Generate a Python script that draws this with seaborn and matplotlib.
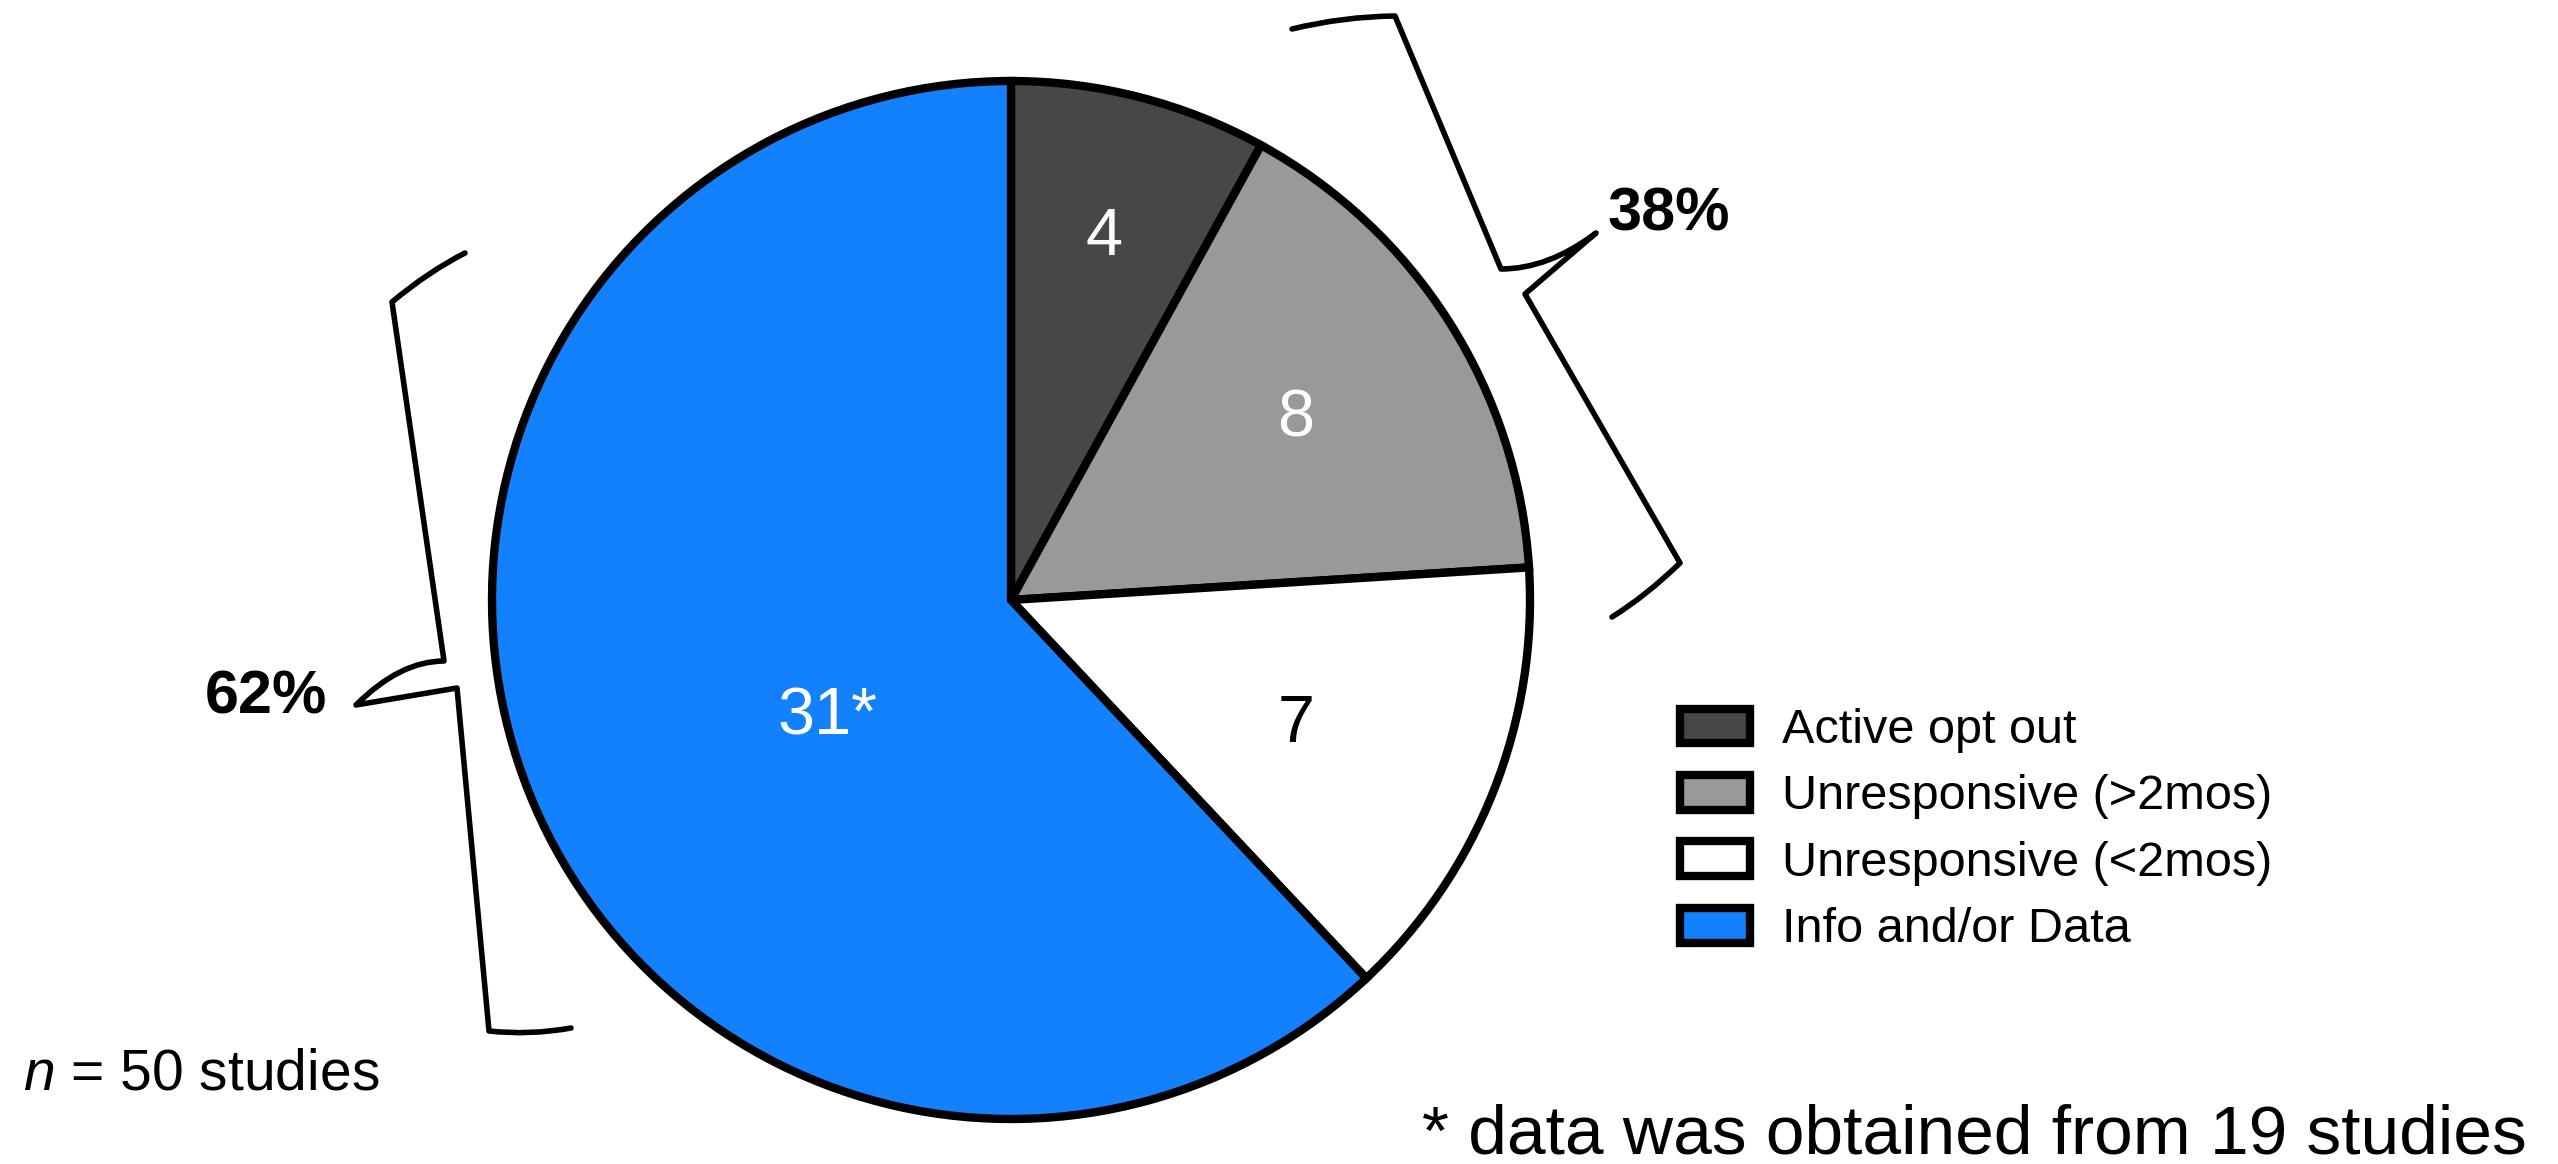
import numpy as np
import matplotlib
matplotlib.use("Agg")
import matplotlib.pyplot as plt
import seaborn as sns
from matplotlib.path import Path
from matplotlib.patches import PathPatch

# Study outcomes (counts out of 50 studies)
categories = ["Active opt out", "Unresponsive (>2mos)", "Unresponsive (<2mos)", "Info and/or Data"]
counts = [4, 8, 7, 31]
slice_labels = ["4", "8", "7", "31*"]
group_labels = ["38%", "62%"]
sample_note = "$n$ = 50 studies"
footnote = "* data was obtained from 19 studies"

palette = ["#474747", "#999999", "#ffffff", "#1380fe"]
label_colors = ["white", "white", "black", "white"]

sns.set_theme(style="white")
plt.rcParams["font.family"] = ["Liberation Sans", "DejaVu Sans"]
plt.rcParams["mathtext.fontset"] = "custom"
plt.rcParams["mathtext.it"] = "Liberation Sans:italic"
plt.rcParams["mathtext.rm"] = "Liberation Sans"
plt.rcParams["text.color"] = "black"

W, H = 2558, 1164
fig = plt.figure(figsize=(W / 100, H / 100), dpi=100)
ax = fig.add_axes([0, 0, 1, 1])

# pie laid out in pixel units (y up)
cx, cy, R = 1011, 564, 519
wedges, _ = ax.pie(
    counts, colors=palette, startangle=90, counterclock=False,
    center=(cx, cy), radius=R,
    wedgeprops=dict(edgecolor="black", linewidth=6, joinstyle="miter"),
)
ax.set_xlim(0, W)
ax.set_ylim(0, H)
ax.set_aspect("equal")
ax.axis("off")

# count labels inside each wedge
label_r = [0.72, 0.65, 0.60, 0.42]
label_shift = [0, 0, -2, 11]
for w, txt, col, rf, dth in zip(wedges, slice_labels, label_colors, label_r, label_shift):
    th = np.deg2rad((w.theta1 + w.theta2) / 2 + dth)
    ax.text(cx + rf * R * np.cos(th), cy + rf * R * np.sin(th), txt,
            color=col, fontsize=48, ha="center", va="center")


def brace(pts, bow):
    """Curly bracket through: top end, top corner, arm end, tip, arm start, bottom corner, bottom end."""
    p = [(x, H - y) for x, y in pts]
    top_end, top_corner, a, tip, b, bot_corner, bot_end = p
    # slightly bowed hooks at both ends
    hook_top = ((top_end[0] + top_corner[0]) / 2, (top_end[1] + top_corner[1]) / 2 + bow)
    hook_bot = ((bot_end[0] + bot_corner[0]) / 2, (bot_end[1] + bot_corner[1]) / 2 - bow)
    mid = ((a[0] + tip[0]) / 2, a[1])
    verts = [top_end, hook_top, top_corner, a, mid, tip, b, bot_corner, hook_bot, bot_end]
    codes = [Path.MOVETO, Path.CURVE3, Path.CURVE3, Path.LINETO, Path.CURVE3, Path.CURVE3,
             Path.LINETO, Path.LINETO, Path.CURVE3, Path.CURVE3]
    ax.add_patch(PathPatch(Path(verts, codes), facecolor="none", edgecolor="black",
                           linewidth=4, joinstyle="round", capstyle="round"))


brace([(1292, 29), (1395, 16), (1501, 269), (1596, 233), (1525, 294), (1680, 563), (1612, 617)], 6)
brace([(465, 253), (392, 302), (444, 661), (356, 705), (457, 688), (489, 1031), (571, 1028)], 6)

ax.text(1669, H - 215, group_labels[0], fontsize=44, fontweight="bold", ha="center", va="center")
ax.text(266, H - 698, group_labels[1], fontsize=44, fontweight="bold", ha="center", va="center")

ax.text(23, H - 1090, sample_note, fontsize=41, ha="left", va="baseline")
ax.text(2527, H - 1153, footnote, fontsize=50, ha="right", va="baseline")

leg = ax.legend(wedges, categories, loc="upper left",
                bbox_to_anchor=(1680 / W, 1 - 708 / H), bbox_transform=fig.transFigure,
                frameon=False, fontsize=35, handlelength=1.45, handleheight=0.72,
                handletextpad=0.65, labelspacing=0.44, borderpad=0, borderaxespad=0)
for h in leg.legend_handles:
    h.set_linewidth(6)

fig.savefig("out.png", dpi=100, facecolor="white")
